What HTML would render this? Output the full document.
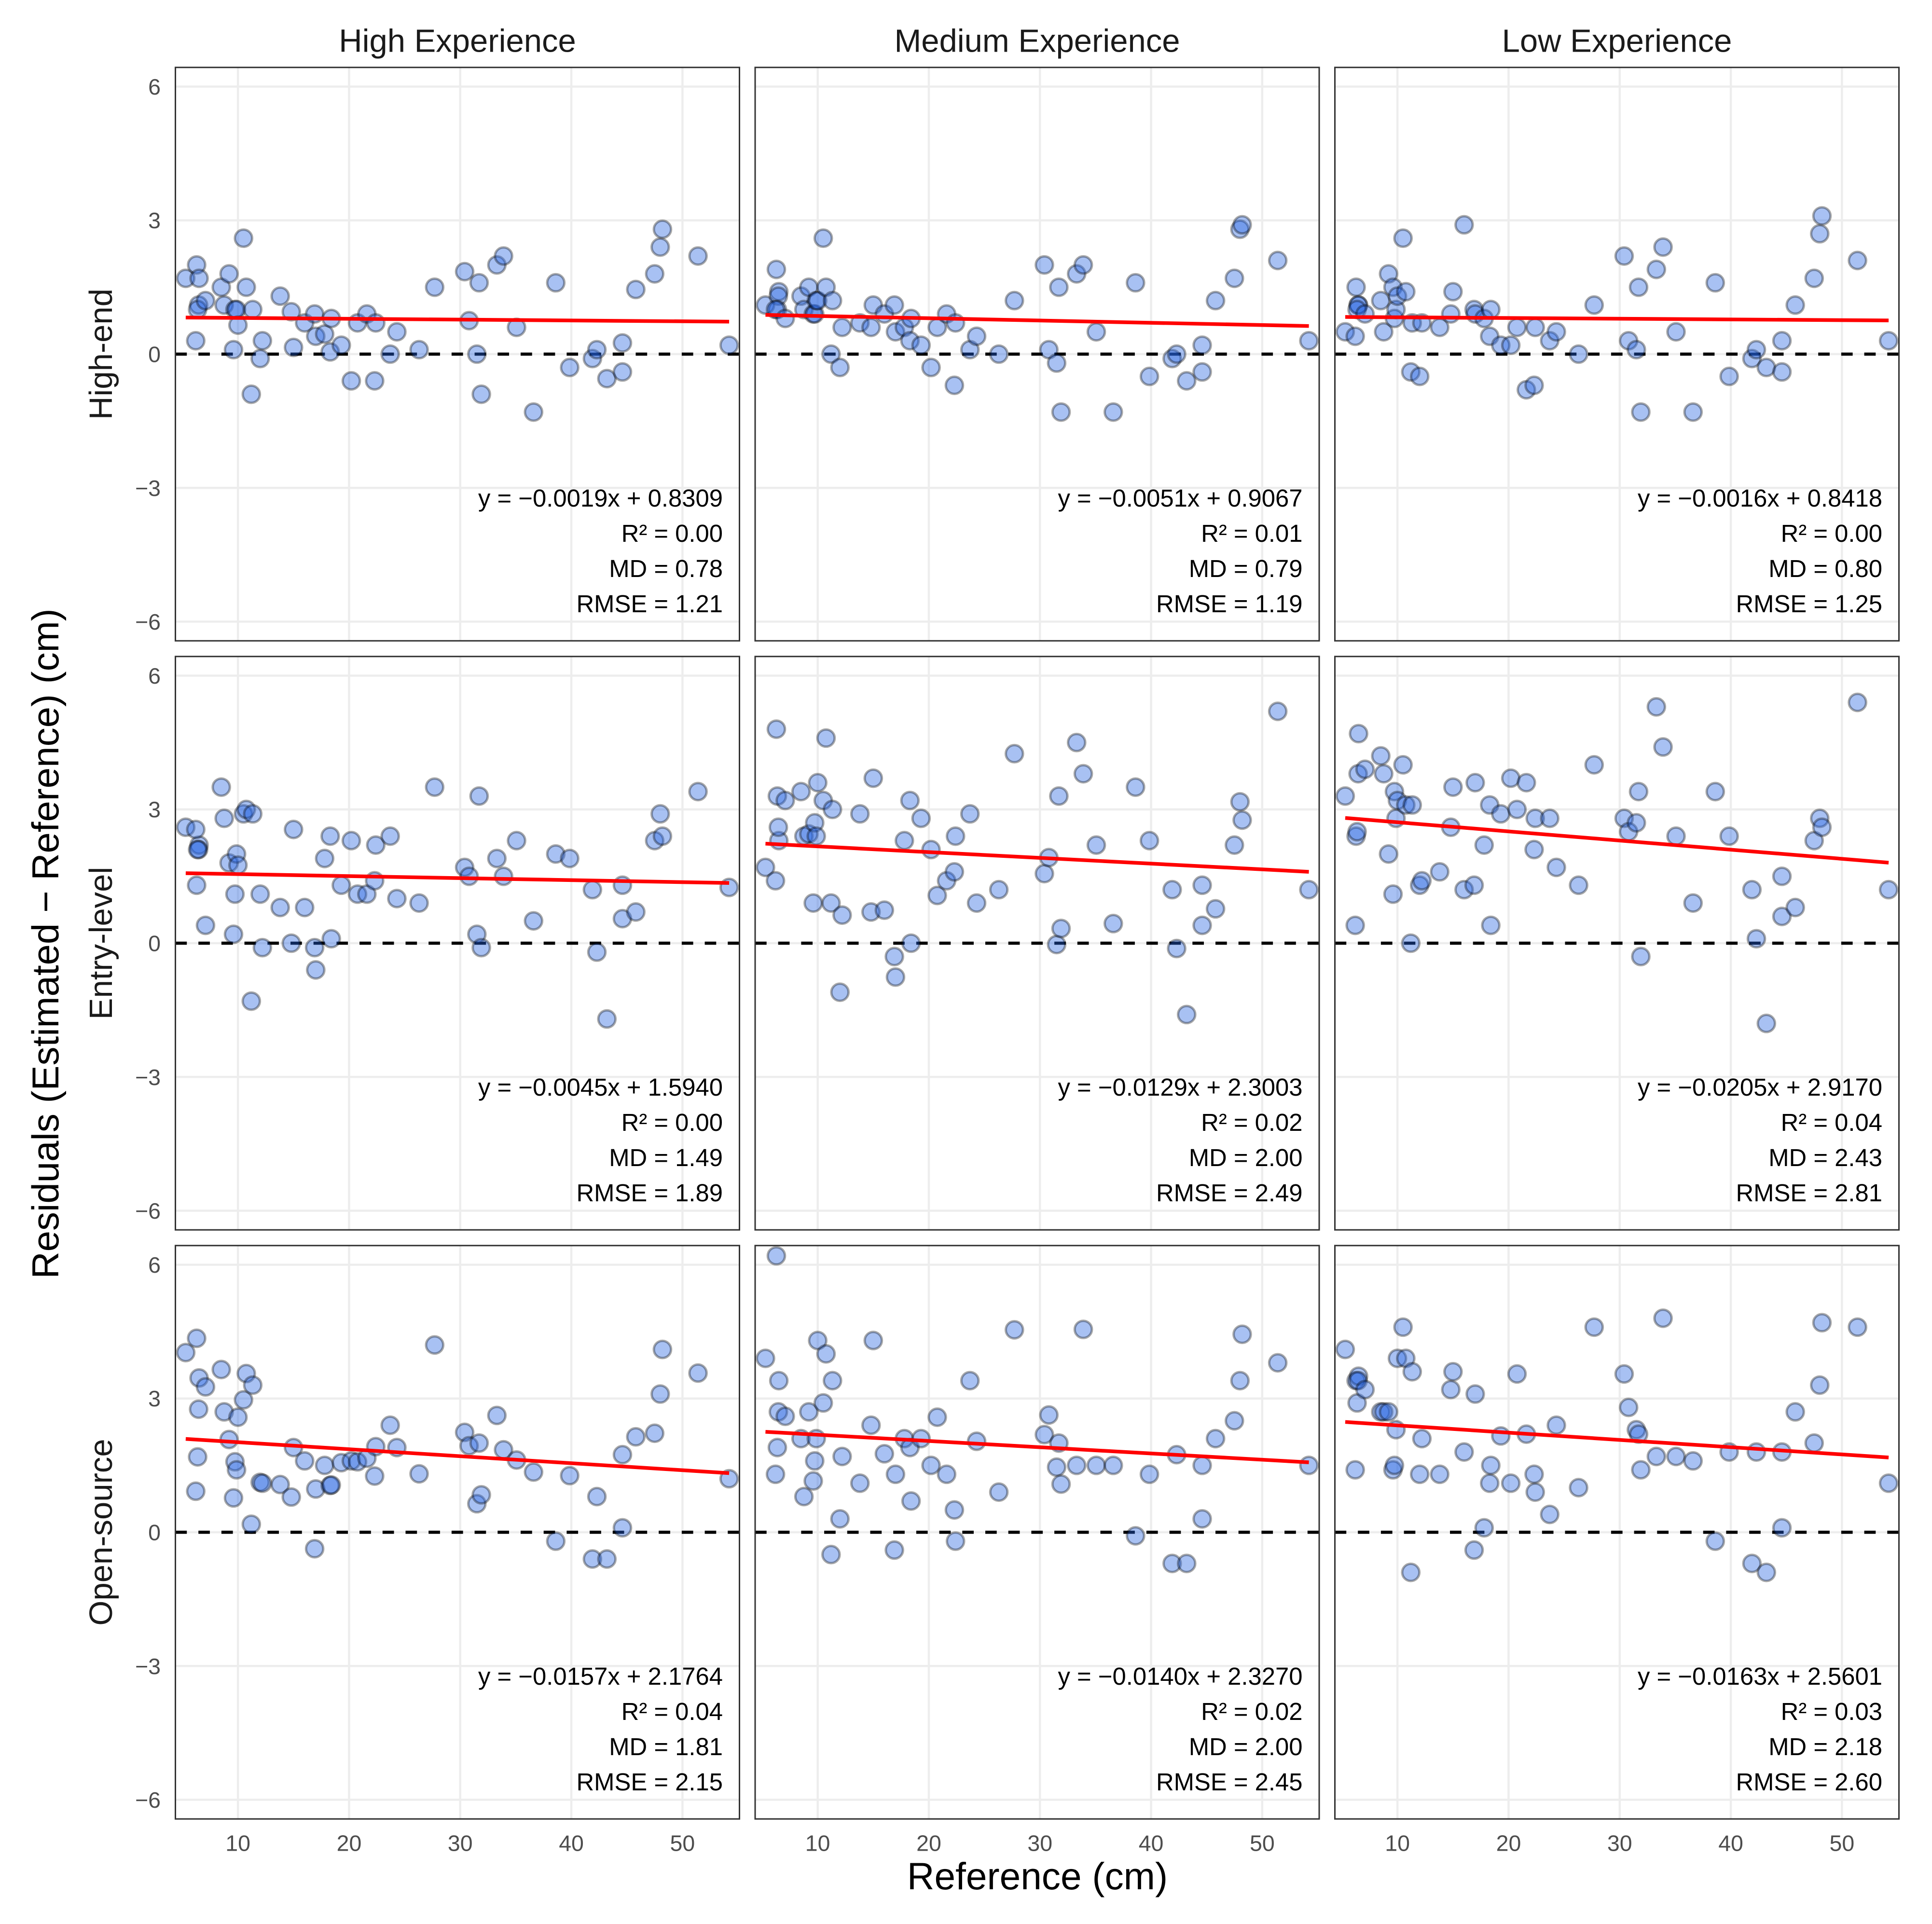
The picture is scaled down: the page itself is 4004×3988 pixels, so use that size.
<!DOCTYPE html>
<html lang="en">
<head>
<meta charset="utf-8">
<title>Residuals by experience and device class</title>
<style>
html,body{margin:0;padding:0;background:#fff;}
svg{display:block;font-family:"Liberation Sans",Arial,sans-serif;}
</style>
</head>
<body>
<svg id="chart" xmlns="http://www.w3.org/2000/svg" width="4004" height="3988" viewBox="0 0 4004 3988">
  <rect x="0" y="0" width="4004" height="3988" fill="#ffffff"/>
  <text x="948" y="107.5" font-size="67" fill="#1a1a1a" text-anchor="middle">High Experience</text>
  <text x="2149.5" y="107.5" font-size="67" fill="#1a1a1a" text-anchor="middle">Medium Experience</text>
  <text x="3351" y="107.5" font-size="67" fill="#1a1a1a" text-anchor="middle">Low Experience</text>
  <text transform="translate(232,734) rotate(-90)" font-size="67" fill="#1a1a1a" text-anchor="middle">High-end</text>
  <text transform="translate(232,1955) rotate(-90)" font-size="67" fill="#1a1a1a" text-anchor="middle">Entry-level</text>
  <text transform="translate(232,3176) rotate(-90)" font-size="67" fill="#1a1a1a" text-anchor="middle">Open-source</text>
  <text transform="translate(121,1956) rotate(-90)" font-size="78" fill="#000000" text-anchor="middle">Residuals (Estimated − Reference) (cm)</text>
  <text x="2150" y="3916" font-size="78.4" fill="#000000" text-anchor="middle">Reference (cm)</text>
  <g id="panels"></g>
</svg>
<script>
// Shared reference measurements (cm), one per tree
const referenceCm = [5.3,6.28,6.5,6.46,6.37,6.2,7.08,8.5,8.76,9.2,9.6,9.73,9.87,10.0,10.5,10.75,11.2,11.33,12.0,12.2,13.8,14.8,15.0,16.0,16.9,17.0,17.8,18.3,18.4,19.3,20.2,20.76,21.6,22.3,22.4,23.7,24.3,26.3,27.7,30.4,30.8,31.5,31.7,31.9,33.3,33.9,35.07,36.6,38.6,39.85,41.9,42.3,43.2,44.6,44.6,45.8,47.5,48.0,48.2,51.4,54.2];

// Residuals per facet, aligned with referenceCm
const highEndHigh = [1.7,2.0,1.7,1.1,1.0,0.3,1.2,1.5,1.1,1.8,0.1,1.0,1.0,0.65,2.6,1.5,-0.9,1.0,-0.1,0.3,1.3,0.95,0.15,0.7,0.9,0.4,0.45,0.05,0.8,0.2,-0.6,0.7,0.9,-0.6,0.7,0,0.5,0.1,1.5,1.85,0.75,0,1.6,-0.9,2.0,2.2,0.6,-1.3,1.6,-0.3,-0.1,0.1,-0.55,0.25,-0.4,1.45,1.8,2.4,2.8,2.2,0.2];
const highEndMedium = [1.1,1.9,1.4,1.3,1.0,1.0,0.8,1.3,1.0,1.5,0.9,0.9,1.2,1.2,2.6,1.5,0,1.2,-0.3,0.6,0.7,0.6,1.1,0.9,1.1,0.5,0.6,0.3,0.8,0.2,-0.3,0.6,0.9,-0.7,0.7,0.1,0.4,0,1.2,2.0,0.1,-0.2,1.5,-1.3,1.8,2.0,0.5,-1.3,1.6,-0.5,-0.1,0,-0.6,0.2,-0.4,1.2,1.7,2.8,2.9,2.1,0.3];
const highEndLow = [0.5,1.5,1.1,1.1,1.0,0.4,0.9,1.2,0.5,1.8,1.5,0.8,1.0,1.3,2.6,1.4,-0.4,0.7,-0.5,0.7,0.6,0.9,1.4,2.9,1.0,0.9,0.8,0.4,1.0,0.2,0.2,0.6,-0.8,-0.7,0.6,0.3,0.5,0,1.1,2.2,0.3,0.1,1.5,-1.3,1.9,2.4,0.5,-1.3,1.6,-0.5,-0.1,0.1,-0.3,0.3,-0.4,1.1,1.7,2.7,3.1,2.1,0.3];
const entryLevelHigh = [2.6,1.3,2.2,2.1,2.1,2.55,0.4,3.5,2.8,1.8,0.2,1.1,2.0,1.75,2.9,3.0,-1.3,2.9,1.1,-0.1,0.8,0,2.55,0.8,-0.1,-0.6,1.9,2.4,0.1,1.3,2.3,1.1,1.1,1.4,2.2,2.4,1.0,0.9,3.5,1.7,1.5,0.2,3.3,-0.1,1.9,1.5,2.3,0.5,2.0,1.9,1.2,-0.2,-1.7,1.3,0.55,0.7,2.3,2.9,2.4,3.4,1.25];
const entryLevelMedium = [1.7,4.8,2.3,2.6,3.3,1.4,3.2,3.4,2.4,2.45,0.9,2.7,2.4,3.6,3.2,4.6,0.9,3.0,-1.1,0.63,2.9,0.7,3.7,0.74,-0.3,-0.76,2.3,3.2,0,2.8,2.1,1.07,1.4,1.6,2.4,2.9,0.9,1.2,4.25,1.56,1.92,-0.03,3.3,0.33,4.5,3.8,2.2,0.44,3.5,2.3,1.2,-0.12,-1.6,1.3,0.4,0.77,2.2,3.17,2.76,5.2,1.2];
const entryLevelLow = [3.3,2.4,4.7,3.8,2.5,0.4,3.9,4.2,3.8,2.0,1.1,3.4,2.8,3.2,4.0,3.1,0,3.1,1.3,1.4,1.6,2.6,3.5,1.2,1.3,3.6,2.2,3.1,0.4,2.9,3.7,3.0,3.6,2.1,2.8,2.8,1.7,1.3,4.0,2.8,2.5,2.7,3.4,-0.3,5.3,4.4,2.4,0.9,3.4,2.4,1.2,0.1,-1.8,1.5,0.6,0.8,2.3,2.8,2.6,5.4,1.2];
const openSourceHigh = [4.03,4.35,3.46,2.76,1.69,0.92,3.26,3.65,2.7,2.08,0.77,1.58,1.4,2.58,2.97,3.56,0.18,3.3,1.12,1.1,1.07,0.79,1.9,1.6,-0.37,0.97,1.5,1.05,1.06,1.56,1.6,1.58,1.66,1.26,1.92,2.4,1.9,1.31,4.2,2.24,1.94,0.64,2.0,0.84,2.62,1.85,1.62,1.35,-0.2,1.27,-0.6,0.8,-0.6,1.74,0.1,2.14,2.22,3.1,4.1,3.57,1.2];
const openSourceMedium = [3.9,6.2,3.4,2.7,1.9,1.3,2.6,2.1,0.8,2.7,1.15,1.6,2.1,4.3,2.9,4.0,-0.5,3.4,0.3,1.7,1.1,2.4,4.3,1.76,-0.4,1.3,2.1,1.9,0.7,2.1,1.5,2.58,1.3,0.5,-0.2,3.4,2.04,0.9,4.54,2.19,2.63,1.46,2.0,1.08,1.5,4.55,1.5,1.5,-0.08,1.3,-0.7,1.74,-0.7,1.5,0.3,2.1,2.5,3.4,4.44,3.8,1.5];
const openSourceLow = [4.1,3.4,3.5,3.4,2.9,1.4,3.2,2.7,2.7,2.7,1.4,1.5,2.3,3.9,4.6,3.9,-0.9,3.6,1.3,2.1,1.3,3.2,3.6,1.8,-0.4,3.1,0.1,1.1,1.5,2.16,1.1,3.55,2.2,1.3,0.9,0.4,2.4,1.0,4.6,3.55,2.8,2.3,2.2,1.4,1.7,4.8,1.7,1.6,-0.2,1.8,-0.7,1.8,-0.9,1.8,0.1,2.7,2.0,3.3,4.7,4.6,1.1];

// Regression and summary statistics per facet
const slopes = [-0.0019,-0.0051,-0.0016,-0.0045,-0.0129,-0.0205,-0.0157,-0.0140,-0.0163];
const intercepts = [0.8309,0.9067,0.8418,1.5940,2.3003,2.9170,2.1764,2.3270,2.5601];
const rSquared = ["0.00","0.01","0.00","0.00","0.02","0.04","0.04","0.02","0.03"];
const meanDiffs = ["0.78","0.79","0.80","1.49","2.00","2.43","1.81","2.00","2.18"];
const rmses = ["1.21","1.19","1.25","1.89","2.49","2.81","2.15","2.45","2.60"];
const facetNames = ["high-end-high","high-end-medium","high-end-low","entry-level-high","entry-level-medium","entry-level-low","open-source-high","open-source-medium","open-source-low"];

// Axis ticks
const xTicks = [10,20,30,40,50];
const yTicks = [-6,-3,0,3,6];

const facetResiduals = [highEndHigh,highEndMedium,highEndLow,entryLevelHigh,entryLevelMedium,entryLevelLow,openSourceHigh,openSourceMedium,openSourceLow];

const NS = "http://www.w3.org/2000/svg";
const panelLefts = [363.5,1565,2766.5];
const panelTops = [139.75,1360.75,2581.75];
const panelW = 1169;
const panelH = 1188.5;
const xMin = 4.37, xMax = 55.13, yMin = -6.43, yMax = 6.43;

function make(parent, tag, attrs, text) {
  const el = document.createElementNS(NS, tag);
  for (const k in attrs) el.setAttribute(k, attrs[k]);
  if (text !== undefined) el.textContent = text;
  parent.appendChild(el);
  return el;
}
function xScale(left, v) { return left + (v - xMin) / (xMax - xMin) * panelW; }
function yScale(top, v) { return top + (yMax - v) / (yMax - yMin) * panelH; }
function minusFmt(v) { return v < 0 ? "\u2212" + Math.abs(v) : String(v); }

const root = document.getElementById("panels");
const refLo = Math.min.apply(null, referenceCm);
const refHi = Math.max.apply(null, referenceCm);

for (let r = 0; r < 3; r++) {
  for (let c = 0; c < 3; c++) {
    const idx = r * 3 + c;
    const left = panelLefts[c], top = panelTops[r];
    const right = left + panelW, bottom = top + panelH;
    const g = make(root, "g", {});
    
    

    // gridlines
    for (const t of yTicks) {
      const l = make(g, "line", {x1:left, x2:right, y1:yScale(top,t), y2:yScale(top,t), stroke:"#ededed", "stroke-width":4.5});
      
      
    }
    for (const t of xTicks) {
      const l = make(g, "line", {x1:xScale(left,t), x2:xScale(left,t), y1:top, y2:bottom, stroke:"#ededed", "stroke-width":4.5});
      
      
    }

    // zero reference line
    const zero = make(g, "line", {x1:left, x2:right, y1:yScale(top,0), y2:yScale(top,0), stroke:"#000000", "stroke-width":6.4, "stroke-dasharray":"23.7 24"});
    
    

    // points
    const values = facetResiduals[idx];
    for (let i = 0; i < referenceCm.length; i++) {
      const p = make(g, "circle", {cx:xScale(left,referenceCm[i]), cy:yScale(top,values[i]), r:17.8, fill:"#2563e1", "fill-opacity":0.4, stroke:"#000000", "stroke-opacity":0.34, "stroke-width":5});
      
      
    }

    // regression line
    const trend = make(g, "line", {
      x1:xScale(left,refLo), y1:yScale(top,slopes[idx]*refLo+intercepts[idx]),
      x2:xScale(left,refHi), y2:yScale(top,slopes[idx]*refHi+intercepts[idx]),
      stroke:"#ff0000", "stroke-width":7.6
    });
    
    

    // annotation block
    const lines = [
      "y = \u2212" + Math.abs(slopes[idx]).toFixed(4) + "x + " + intercepts[idx].toFixed(4),
      "R\u00B2 = " + rSquared[idx],
      "MD = " + meanDiffs[idx],
      "RMSE = " + rmses[idx]
    ];
    const statNames = ['equation-label','r-squared-label','mean-difference-label','rmse-label'];
    for (let k = 0; k < 4; k++) {
      const t = make(g, "text", {x:right-34.5, y:top+892+k*73+18, "font-size":50.8, "text-anchor":"end", fill:"#000000"}, lines[k]);
      
      
    }

    // panel border
    const border = make(g, "rect", {x:left, y:top, width:panelW, height:panelH, fill:"none", stroke:"#333333", "stroke-width":3});
    
    

    // y tick labels on the first column
    if (c === 0) {
      for (const t of yTicks) {
        const lab = make(g, "text", {x:333, y:yScale(top,t)+16.5, "font-size":46.5, "text-anchor":"end", fill:"#4d4d4d"}, minusFmt(t));
        
        
      }
    }
    // x tick labels on the bottom row
    if (r === 2) {
      for (const t of xTicks) {
        const lab = make(g, "text", {x:xScale(left,t), y:3836.5, "font-size":46.5, "text-anchor":"middle", fill:"#4d4d4d"}, String(t));
        
        
      }
    }
  }
}
</script>
</body>
</html>
